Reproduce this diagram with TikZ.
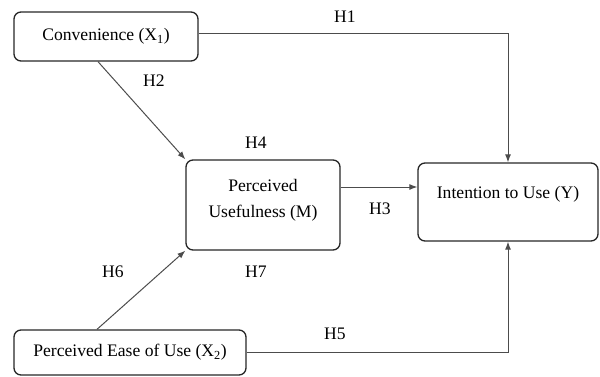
\documentclass[tikz,border=0pt]{standalone}
\usepackage{fontspec}
\setmainfont{Liberation Serif}
\usepackage{tikz}
\usetikzlibrary{arrows.meta}
\tikzset{varbox/.style={draw=black!85, line width=1.3pt, rounded corners=7pt, align=center, inner sep=0pt}}
\tikzset{hyp/.style={inner sep=1pt}}

\begin{document}
\begin{tikzpicture}[x=1pt, y=-1pt, font=\fontsize{17.6}{26}\selectfont, >={Latex[length=8pt,width=6pt]}]
\useasboundingbox (0,0) rectangle (600,376);
\node[varbox, minimum width=184pt, minimum height=49pt] (conv) at (106,36.5) {Convenience (X\textsubscript{1})};
\node[varbox, minimum width=154pt, minimum height=90pt, text depth=14pt] (pu) at (263,205) {Perceived\\Usefulness (M)};
\node[varbox, minimum width=180pt, minimum height=78pt, text depth=19pt] (iu) at (508,202) {Intention to Use (Y)};
\node[varbox, minimum width=232pt, minimum height=45pt] (peu) at (130,352.5) {Perceived Ease of Use (X\textsubscript{2})};
\draw[black!70, line width=1pt, ->] ([yshift=3pt]conv.east) -| (iu.north);
\draw[black!70, line width=1pt, ->] ([xshift=-8pt]conv.south) -- (pu.north west);
\draw[black!70, line width=1pt, ->] ([yshift=18pt]pu.east) coordinate (h3s) -- (h3s -| iu.west);
\draw[black!70, line width=1pt, ->] ([xshift=-33pt]peu.north) -- (pu.south west);
\draw[black!70, line width=1pt, ->] (peu.east) -| (iu.south);
\node[hyp] (h1) at (345,17) {H1};
\node[hyp] (h2) at (154,81) {H2};
\node[hyp] (h3) at (380,209) {H3};
\node[hyp] (h4) at (256,143) {H4};
\node[hyp] (h5) at (335,334) {H5};
\node[hyp] (h6) at (113,272) {H6};
\node[hyp] (h7) at (256,272) {H7};
\end{tikzpicture}
\end{document}
